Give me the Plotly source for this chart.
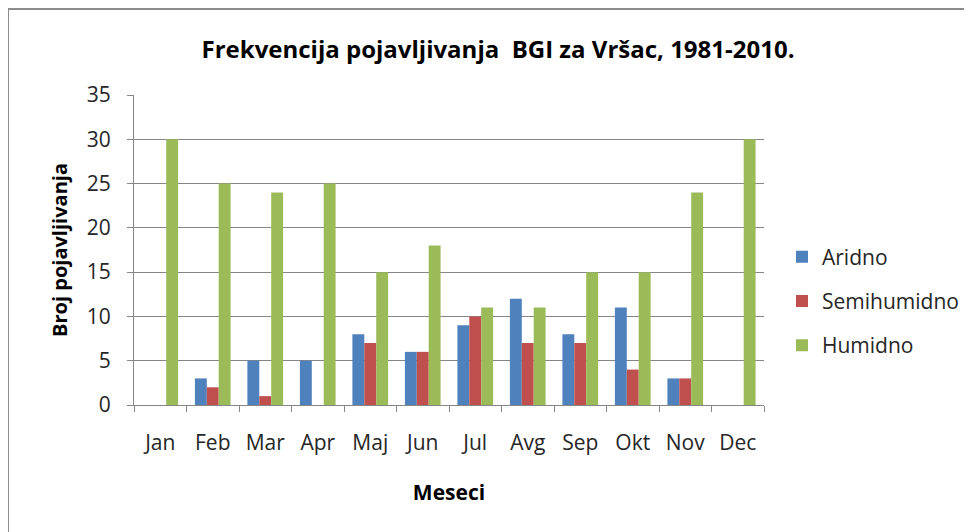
import plotly.graph_objects as go

months = ["Jan", "Feb", "Mar", "Apr", "Maj", "Jun", "Jul", "Avg", "Sep", "Okt", "Nov", "Dec"]
aridno = [0, 3, 5, 5, 8, 6, 9, 12, 8, 11, 3, 0]
semihumidno = [0, 2, 1, 0, 7, 6, 10, 7, 7, 4, 3, 0]
humidno = [30, 25, 24, 25, 15, 18, 11, 11, 15, 15, 24, 30]
series_names = ["Aridno", "Semihumidno", "Humidno"]
colors = ["#4F81BD", "#C0504D", "#9BBB59"]

FONT = "Open Sans"
OFF = 8  # page body margin offset

fig = go.Figure()
for i, (name, vals) in enumerate(zip(series_names, [aridno, semihumidno, humidno])):
    fig.add_trace(go.Bar(x=months, y=vals, name=name, marker_color=colors[i],
                         marker_line_width=0, legendgroup=name))

W, H = 972, 532
# screen coordinates of plot area
SL, SR, ST, SB = 134, 764, 95, 405
L, T = SL - OFF, ST - OFF
R = W - (SR - OFF)
B = H - (SB - OFF)
pw, ph = W - L - R, H - T - B

def px(x):
    return (x - OFF - L) / pw

def py(y):
    return (H - B - (y - OFF)) / ph

fig.update_layout(
    width=W, height=H,
    margin=dict(l=L, r=R, t=T, b=B, autoexpand=False),
    paper_bgcolor="white", plot_bgcolor="white",
    barmode="group", bargap=0.32, bargroupgap=0,
    title=dict(text="<b>Frekvencija pojavljivanja  BGI za Vršac, 1981-2010.</b>",
               x=px(498), xref="paper", xanchor="center",
               y=1 - (50 - OFF) / H, yanchor="middle",
               font=dict(family=FONT, size=24, color="#000000")),
    font=dict(family=FONT, size=20, color="#262626"),
    legend=dict(x=px(782), y=py(301), xanchor="left", yanchor="middle",
                font=dict(family=FONT, size=21, color="#262626"),
                tracegroupgap=14, itemwidth=30, bgcolor="rgba(0,0,0,0)"),
    showlegend=True,
)
fig.update_xaxes(
    type="category", tickson="boundaries", ticks="outside", ticklen=6,
    tickcolor="#868686", showline=True, linecolor="#868686", linewidth=1,
    showgrid=False, ticklabelstandoff=19,
    tickfont=dict(family=FONT, size=21, color="#262626"),
    title=dict(text="<b>Meseci</b>", standoff=30,
               font=dict(family=FONT, size=21, color="#000000")),
)
fig.update_yaxes(
    range=[0, 35], dtick=5, tick0=0, ticks="outside", ticklen=6,
    tickcolor="#868686", showline=True, linecolor="#868686", linewidth=1,
    showgrid=True, gridcolor="#868686", gridwidth=1, zeroline=False,
    ticklabelstandoff=12,
    tickfont=dict(family=FONT, size=21, color="#262626"),
    title=dict(text="<b>Broj pojavljivanja</b>", standoff=13,
               font=dict(family=FONT, size=20, color="#000000")),
)

# outer chart border
border = dict(type="line", xref="paper", yref="paper", line=dict(color="#8C8C8C", width=2))
fig.add_shape(**border, x0=px(8), x1=px(8), y0=py(9), y1=py(H + 20))
fig.add_shape(**border, x0=px(8), x1=px(W + 20), y0=py(9), y1=py(9))

fig.write_html("out.html")
